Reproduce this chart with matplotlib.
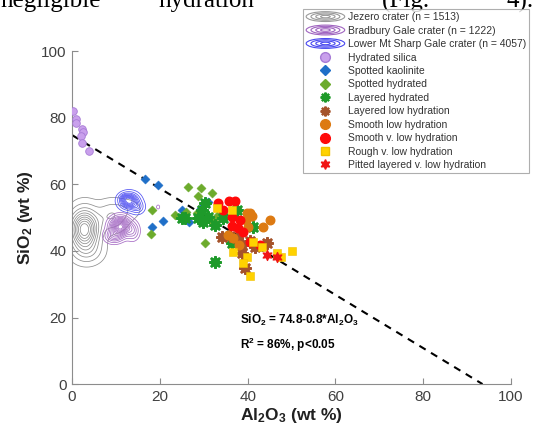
import numpy as np
import matplotlib
matplotlib.use('Agg')
from matplotlib import pyplot as plt
from matplotlib.lines import Line2D
from matplotlib.patches import Ellipse, Patch
from matplotlib.legend_handler import HandlerBase

plt.rcParams['font.family'] = ['Liberation Sans', 'DejaVu Sans']
plt.rcParams['mathtext.default'] = 'regular'

# fit line from the chart text
fit_intercept = 74.8
fit_slope = -0.8
fit_x_end = 93.5

# hydrated silica
silica_x = [0.3, 0.8, 0.9, 2.3, 2.6, 2.0, 2.2, 3.8]
silica_y = [82.0, 79.5, 78.3, 76.5, 75.8, 74.5, 72.5, 70.0]

# spotted kaolinite
kaol_x = [16.6, 19.6, 18.2, 20.7, 26.7, 29.4, 31.0, 25.0]
kaol_y = [61.6, 59.8, 47.1, 49.0, 48.6, 52.8, 54.7, 52.3]

# spotted hydrated
spot_x = [18.2, 18.0, 23.5, 26.0, 26.4, 29.4, 28.7, 31.9, 29.2, 32.1, 30.3, 28.5, 30.8, 33.0]
spot_y = [52.3, 45.0, 50.8, 51.7, 59.2, 58.9, 56.5, 57.4, 50.2, 48.6, 42.3, 51.4, 49.8, 50.4]

# layered hydrated
lay_x = [25.7, 30.3, 28.7, 31.0, 32.6, 29.9, 29.6, 34.4, 37.6, 41.2, 36.4, 32.6, 25.0]
lay_y = [49.9, 54.4, 49.9, 50.2, 47.7, 48.6, 52.3, 49.8, 52.3, 47.1, 42.3, 36.6, 49.8]

# layered low hydration
laylow_x = [34.2, 36.0, 37.6, 38.7, 41.7, 44.4, 38.7, 39.4, 40.5]
laylow_y = [44.1, 44.5, 43.8, 41.7, 41.1, 42.3, 39.3, 34.8, 43.0]

# smooth low hydration
smlow_x = [39.9, 40.5, 45.1, 43.5, 40.1, 35.5, 36.7, 38.0, 39.6, 41.0]
smlow_y = [51.3, 51.3, 49.2, 47.1, 47.1, 44.7, 43.8, 41.7, 49.2, 50.5]

# smooth v. low hydration
smvlow_x = [33.3, 35.8, 37.1, 34.4, 36.4, 38.3, 37.8, 39.0, 40.5, 42.8, 36.4]
smvlow_y = [54.4, 55.0, 55.0, 52.3, 50.2, 49.2, 46.8, 45.6, 42.6, 41.7, 47.5]

# rough v. low hydration
rough_x = [33.0, 36.4, 41.2, 43.3, 46.7, 47.6, 50.1, 36.7, 39.9, 39.0, 40.5]
rough_y = [52.8, 52.3, 42.6, 41.1, 39.3, 38.1, 40.0, 39.6, 38.1, 36.3, 32.4]

# pitted layered v. low hydration
pit_x = [44.4, 46.7]
pit_y = [38.7, 38.1]

# density blobs for the crater contours: (x, y, sx, sy, weight)
jezero_blobs = [(2.8, 46.5, 2.0, 3.6, 1.0), (9.0, 50.5, 2.2, 2.8, 0.2),
                (3.5, 40.0, 2.2, 2.4, 0.18), (13.0, 52.5, 2.0, 2.0, 0.06)]
bradbury_blobs = [(11.0, 47.3, 1.3, 1.6, 1.0), (9.5, 44.5, 1.2, 1.2, 0.3),
                  (13.8, 46.0, 0.9, 1.6, 0.2), (19.6, 53.2, 0.3, 0.5, 0.06)]
sharp_blobs = [(13.0, 55.0, 1.2, 1.3, 1.0), (14.8, 53.2, 0.9, 1.1, 0.28), (12.0, 56.0, 0.7, 0.7, 0.2)]

legend_labels = ['Jezero crater (n = 1513)', 'Bradbury Gale crater (n = 1222)',
                 'Lower Mt Sharp Gale crater (n = 4057)', 'Hydrated silica', 'Spotted kaolinite',
                 'Spotted hydrated', 'Layered hydrated', 'Layered low hydration',
                 'Smooth low hydration', 'Smooth v. low hydration', 'Rough v. low hydration',
                 'Pitted layered v. low hydration']


class RingHandler(HandlerBase):
    def __init__(self, n=4):
        super().__init__()
        self.n = n

    def create_artists(self, legend, orig_handle, xdescent, ydescent, width, height, fontsize, trans):
        cx = width / 2 - xdescent
        cy = height / 2 - ydescent
        out = []
        for i in range(self.n):
            f = (i + 1) / self.n
            out.append(Ellipse((cx, cy), width * f, height * 1.35 * f, fill=False,
                               edgecolor=orig_handle.get_edgecolor(), lw=0.8, transform=trans))
        return out


def density(blobs, X, Y):
    Z = np.zeros_like(X)
    for bx, by, sx, sy, w in blobs:
        Z += w * np.exp(-0.5 * (((X - bx) / sx) ** 2 + ((Y - by) / sy) ** 2))
    return Z


fig = plt.figure(figsize=(5.46, 4.34), dpi=100)
ax = fig.add_axes([0.132, 0.115, 0.804, 0.767])

gx, gy = np.meshgrid(np.linspace(-6, 30, 500), np.linspace(28, 70, 500))
levels = [0.03, 0.1, 0.2, 0.3, 0.4, 0.5, 0.6, 0.7, 0.8, 0.9]
ax.contour(gx, gy, density(jezero_blobs, gx, gy), levels=levels, colors='#8e8e8e', linewidths=0.55)
ax.contour(gx, gy, density(bradbury_blobs, gx, gy),
           levels=[0.03, 0.08, 0.15, 0.22, 0.3, 0.38, 0.46, 0.54, 0.62, 0.7, 0.78, 0.86, 0.94],
           colors='#a56ac4', linewidths=0.55)
ax.contour(gx, gy, density(sharp_blobs, gx, gy), levels=levels, colors='#5050f2', linewidths=0.55)

# fit line
fx = np.array([0, fit_x_end])
ax.plot(fx, fit_intercept + fit_slope * fx, color='black', lw=1.5, dashes=(3.5, 3), zorder=2)

star8 = (8, 2, 0)
ax.scatter(silica_x, silica_y, s=30, c='#c9a0ec', edgecolors='#a77bd6', linewidths=0.6, zorder=3)
ax.scatter(kaol_x, kaol_y, s=22, marker='D', c='#1f6fc8', edgecolors='#1f6fc8', linewidths=0.3, zorder=3)
ax.scatter(spot_x, spot_y, s=22, marker='D', c='#6cab2c', edgecolors='#6cab2c', linewidths=0.3, zorder=3)
ax.scatter(lay_x, lay_y, s=55, marker=star8, c='#1e9a2a', linewidths=2.0, zorder=4)
ax.scatter(laylow_x, laylow_y, s=55, marker=star8, c='#a5532a', linewidths=2.0, zorder=4)
ax.scatter(smlow_x, smlow_y, s=38, c='#dd7a12', edgecolors='#dd7a12', zorder=4)
ax.scatter(smvlow_x, smvlow_y, s=38, c='#ff0a0a', edgecolors='#ff0a0a', zorder=4)
ax.scatter(rough_x, rough_y, s=32, marker='s', c='#ffd200', edgecolors='#f0c000', linewidths=0.4, zorder=5)
ax.scatter(pit_x, pit_y, s=50, marker=(6, 1, 0), c='#f01515', edgecolors='#f01515', zorder=5)

ax.set_xlim(0, 100)
ax.set_ylim(0, 100)
ax.set_xticks(range(0, 101, 20))
ax.set_yticks(range(0, 101, 20))
for s in ['top', 'right']:
    ax.spines[s].set_visible(False)
for s in ['left', 'bottom']:
    ax.spines[s].set_color('#8c8c8c')
ax.tick_params(direction='in', length=4, color='#8c8c8c', labelsize=11, labelcolor='#404040', pad=4)
ax.set_xlabel('Al$_2$O$_3$ (wt %)', fontsize=12.5, fontweight='bold', color='#202020', labelpad=2)
ax.set_ylabel('SiO$_2$ (wt %)', fontsize=12.5, fontweight='bold', color='#202020', labelpad=4)

ax.text(38.3, 19.2, 'SiO$_2$ = 74.8-0.8*Al$_2$O$_3$', fontsize=8.5, fontweight='bold', va='center')
ax.text(38.3, 11.7, 'R$^2$ = 86%, p<0.05', fontsize=8.5, fontweight='bold', va='center')

# legend
handles = [Patch(facecolor='none', edgecolor='#9a9a9a'),
           Patch(facecolor='none', edgecolor='#a064c0'),
           Patch(facecolor='none', edgecolor='#4848f0'),
           Line2D([], [], ls='', marker='o', ms=7, mfc='#c9a0ec', mec='#a77bd6'),
           Line2D([], [], ls='', marker='D', ms=5, mfc='#1f6fc8', mec='#1f6fc8'),
           Line2D([], [], ls='', marker='D', ms=5, mfc='#6cab2c', mec='#6cab2c'),
           Line2D([], [], ls='', marker=star8, ms=7, mew=1.6, mec='#1e9a2a'),
           Line2D([], [], ls='', marker=star8, ms=7, mew=1.6, mec='#a5532a'),
           Line2D([], [], ls='', marker='o', ms=7, mfc='#dd7a12', mec='#dd7a12'),
           Line2D([], [], ls='', marker='o', ms=7, mfc='#ff0a0a', mec='#ff0a0a'),
           Line2D([], [], ls='', marker='s', ms=6, mfc='#ffd200', mec='#f0c000'),
           Line2D([], [], ls='', marker=(6, 1, 0), ms=7, mfc='#f01515', mec='#f01515')]
hmap = {h: RingHandler(4) for h in handles[:3]}
leg = fig.legend(handles, legend_labels, handler_map=hmap, loc='upper left',
                 bbox_to_anchor=(0.555, 0.979), bbox_transform=fig.transFigure,
                 fontsize=7.5, frameon=True, fancybox=False, edgecolor='#9a9a9a',
                 handlelength=3.7, handletextpad=0.3, labelspacing=0.33,
                 borderpad=0.3, borderaxespad=0)
leg.get_frame().set_linewidth(0.8)
for t in leg.get_texts():
    t.set_color('#333333')

# page text above the figure, cut off at the top
page_words = ['negligible', 'hydration', '(Fig.', '4).']
page_word_x = [0.0, 0.291, 0.70, 0.928]
for w, px in zip(page_words, page_word_x):
    fig.text(px, 0.983, w, fontsize=18, family='Liberation Serif', va='baseline', ha='left')

fig.savefig('out.png', dpi=100)
